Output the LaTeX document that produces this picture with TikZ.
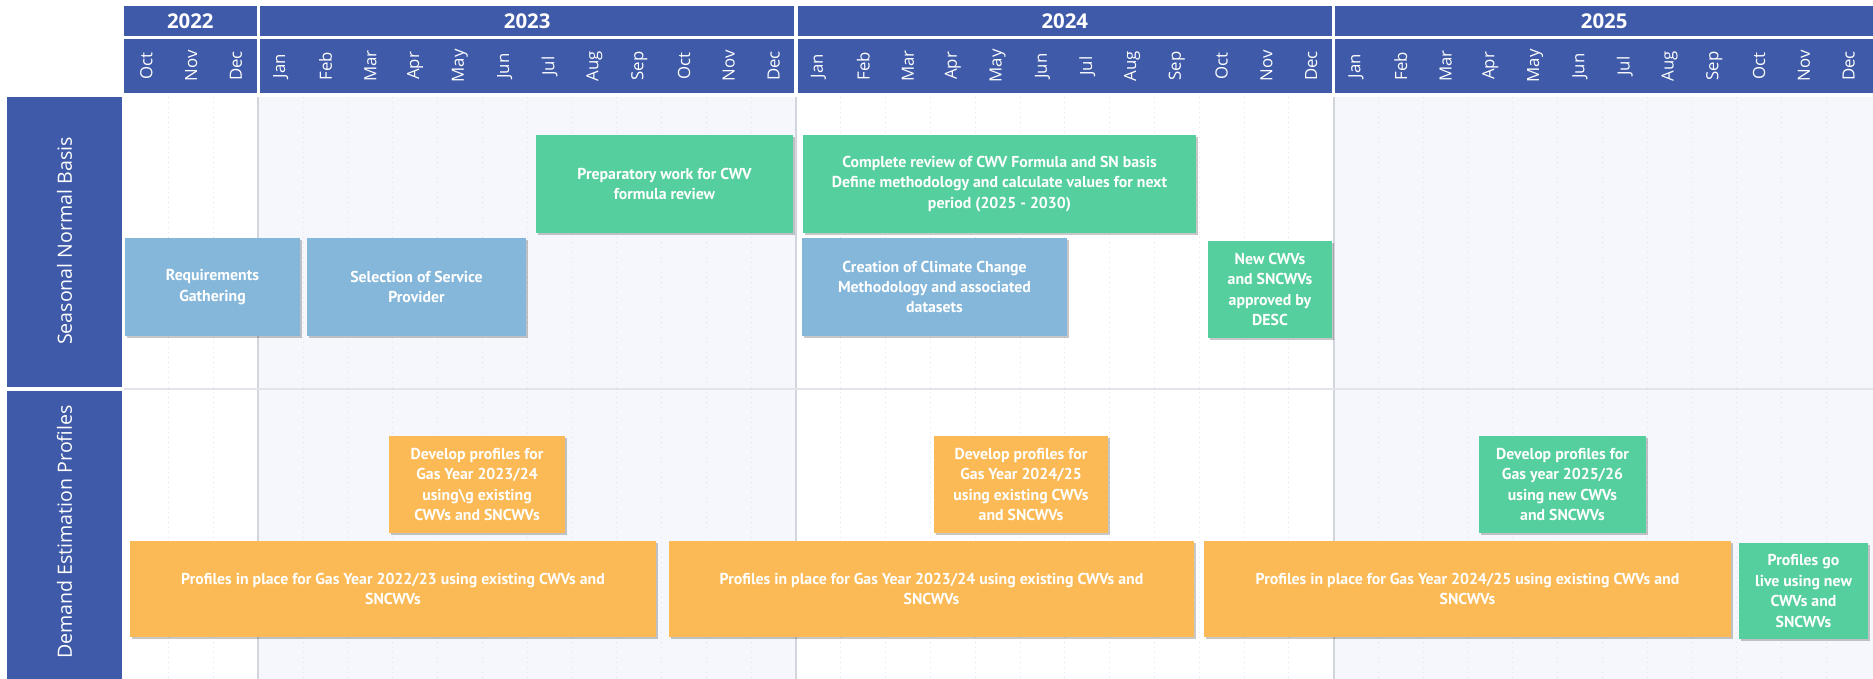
\documentclass[tikz,border=0pt]{standalone}
\usepackage{fontspec}
\setmainfont{PT Sans}
\newfontfamily\headfont{Open Sans}
\usetikzlibrary{positioning,shadows}
\definecolor{hdrblue}{HTML}{3F5AA8}
\definecolor{barblue}{HTML}{85B7DA}
\definecolor{bargreen}{HTML}{55CF9D}
\definecolor{barorange}{HTML}{FBBA55}
\definecolor{bandfill}{HTML}{F6F7FC}
\definecolor{gridline}{HTML}{E2E4EC}
\tikzset{
	bar/.style = {rectangle, inner sep=2pt, text=white, align=center,
	 minimum height=49pt, font=\bfseries\fontsize{7.9}{10.2}\selectfont,
	 drop shadow={shadow xshift=1.2pt, shadow yshift=-1.2pt, opacity=0.22, fill=black}},
	bluebar/.style = {bar, fill=barblue},
	greenbar/.style = {bar, fill=bargreen},
	orangebar/.style = {bar, fill=barorange},
	year/.style = {text=white, inner sep=0pt, font=\headfont\bfseries\fontsize{10.2}{12}\selectfont},
	month/.style = {text=white, inner sep=0pt, rotate=90, font=\headfont\fontsize{8.4}{10}\selectfont},
	lane/.style = {text=white, inner sep=0pt, rotate=90, font=\headfont\fontsize{9.8}{11}\selectfont},
}
\begin{document}
\begin{tikzpicture}[x=0.5pt,y=-0.5pt]
  \useasboundingbox (0,0) rectangle (1873,679);
  % background bands and grid
  \fill[bandfill] (258.4,97) rectangle (796,679);
  \fill[bandfill] (1333.6,97) rectangle (1873,679);
  \foreach \i in {1,...,38}
    \draw[gridline, dotted, line width=0.5pt] ({124+44.8*\i},97) -- ({124+44.8*\i},679);
  \foreach \i in {3,15,27}
    \draw[gridline!85!gray, line width=1pt] ({124+44.8*\i},97) -- ({124+44.8*\i},679);
  \draw[gridline, line width=1.2pt] (124,389) -- (1873,389);
  % header
  \foreach \yr/\xa/\xb in {2022/124/256.6, 2023/260.2/794.2, 2024/797.8/1331.8, 2025/1335.4/1873} {
    \fill[hdrblue] (\xa,6) rectangle (\xb,36);
    \fill[hdrblue] (\xa,39) rectangle (\xb,93);
    \node (Y\yr) [year] at ({(\xa+\xb)/2},21) {\yr};
  }
  \foreach \mo [count=\i from 0] in {Oct,Nov,Dec,Jan,Feb,Mar,Apr,May,Jun,Jul,Aug,Sep,Oct,Nov,Dec,Jan,Feb,Mar,Apr,May,Jun,Jul,Aug,Sep,Oct,Nov,Dec,Jan,Feb,Mar,Apr,May,Jun,Jul,Aug,Sep,Oct,Nov,Dec}
    \node (M\i) [month] at ({146.4+44.8*\i},66) {\mo};
  % swimlanes
  \fill[hdrblue] (7,97) rectangle (122,387);
  \fill[hdrblue] (7,391) rectangle (122,679);
  \node (SeasonalNormal) [lane] at (64.5,241) {Seasonal Normal Basis};
  \node (DemandEstimation) [lane] at (64.5,532) {Demand Estimation Profiles};
  % seasonal normal basis
  \node (Requirements) [bluebar, minimum width=87.5pt] at (212.5,287) {Requirements\\Gathering};
  \node (Selection) [bluebar, minimum width=109.5pt] at (416.5,287) {Selection of Service\\Provider};
  \node (Preparatory) [greenbar, minimum width=128.5pt] at (664.5,184) {Preparatory work for CWV\\formula review};
  \node (Review) [greenbar, minimum width=196.5pt] at (999.5,184) {Complete review of CWV Formula and SN basis\\Define methodology and calculate values for next\\period (2025 - 2030)};
  \node (Climate) [bluebar, minimum width=132.5pt] at (934.5,287) {Creation of Climate Change\\Methodology and associated\\datasets};
  \node (Approval) [greenbar, minimum width=62pt, minimum height=48.5pt] at (1270,289.5) {New CWVs\\and SNCWVs\\approved by\\DESC};
  % demand estimation profiles
  \node (Develop2324) [orangebar, minimum width=88pt, minimum height=48.5pt] at (477,484.5) {Develop profiles for\\Gas Year 2023/24\\using\textbackslash g existing\\CWVs and SNCWVs};
  \node (Place2223) [orangebar, minimum width=263pt, minimum height=48pt] at (393,589) {Profiles in place for Gas Year 2022/23 using existing CWVs and\\SNCWVs};
  \node (Develop2425) [orangebar, minimum width=87pt, minimum height=48.5pt] at (1021,484.5) {Develop profiles for\\Gas Year 2024/25\\using existing CWVs\\and SNCWVs};
  \node (Place2324) [orangebar, minimum width=262.5pt, minimum height=48pt] at (931.5,589) {Profiles in place for Gas Year 2023/24 using existing CWVs and\\SNCWVs};
  \node (Develop2526) [greenbar, minimum width=83.5pt, minimum height=48.5pt] at (1562.5,484.5) {Develop profiles for\\Gas year 2025/26\\using new CWVs\\and SNCWVs};
  \node (Place2425) [orangebar, minimum width=263.5pt, minimum height=48pt] at (1467.5,589) {Profiles in place for Gas Year 2024/25 using existing CWVs and\\SNCWVs};
  \node (GoLive) [greenbar, minimum width=64.5pt, minimum height=48pt] at (1803.5,591) {Profiles go\\live using new\\CWVs and\\SNCWVs};
\end{tikzpicture}
\end{document}
